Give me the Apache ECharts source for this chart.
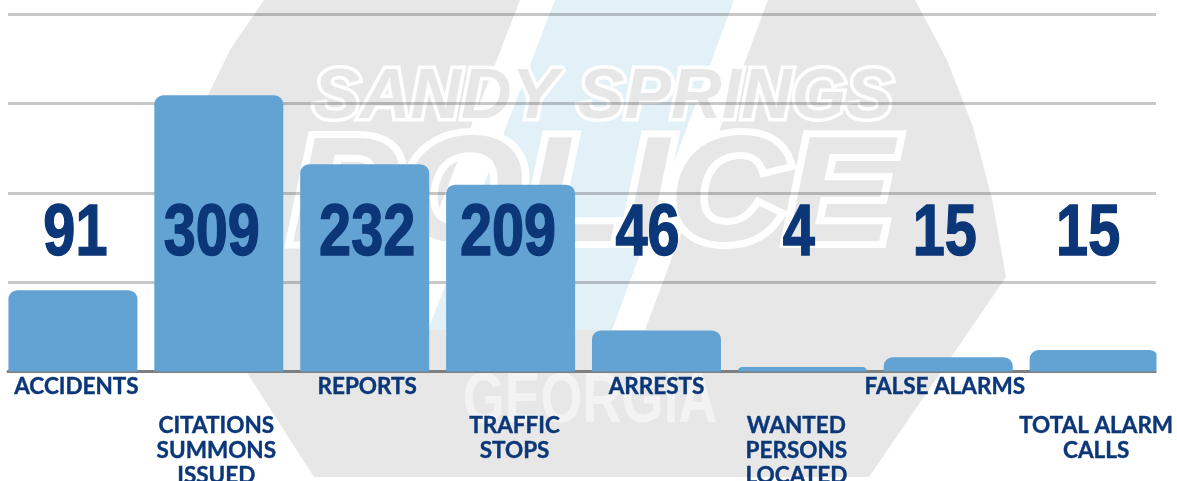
<!DOCTYPE html>
<html>
<head>
<meta charset="utf-8">
<title>Sandy Springs Police activity</title>
<script src="https://cdn.jsdelivr.net/npm/echarts@6/dist/echarts.min.js"></script>
<style>
  html, body { margin: 0; padding: 0; background: #fff; }
  #chart { width: 1177px; height: 481px; }
</style>
</head>
<body>
<div id="chart"></div>
<script>
// what the picture prints
const categories = [
  ['ACCIDENTS'],
  ['CITATIONS', 'SUMMONS', 'ISSUED'],
  ['REPORTS'],
  ['TRAFFIC', 'STOPS'],
  ['ARRESTS'],
  ['WANTED', 'PERSONS', 'LOCATED'],
  ['FALSE ALARMS'],
  ['TOTAL ALARM', 'CALLS']
];
const printedValues = [91, 309, 232, 209, 46, 4, 15, 15];
// bar heights, the last ones do not quite agree with the printed numbers
const barValues = [91, 309, 232, 209, 46, 5, 16, 24];
const yTicks = [0, 100, 200, 300, 400];

// the labels sit a few px off their bars in the original
const STEP = 145.9;
const nameShift = [3.5, -2.5, 2.5, 4, 0, -6, -3.5, 2];
const numberShift = [2.5, -7, 2.5, -2.5, -9, -3.5, -3.5, -6];
const lowRow = [false, true, false, true, false, true, false, true];
const NUMBER_LEVEL = 152.5;
const X_MAX = 7.424;

const navy = '#0b3778';
const chart = echarts.init(document.getElementById('chart'), null, { renderer: 'canvas' });

const namePositions = categories.map((c, i) => i + nameShift[i] / STEP);

// faded police badge behind the plot
const badge = [
  { type: 'polygon', z: -10, silent: true,
    shape: { points: [[264, 0], [230, 50], [208, 95], [200, 140], [197, 190], [197, 295], [314, 477],
      [869, 477], [1006, 277], [992, 199], [973, 127], [947, 60], [915, 0]] },
    style: { fill: '#e7e7e7' } },
  { type: 'polygon', z: -9, silent: true,
    shape: { points: [[520, 0], [768, 0], [645, 330], [392, 330]] },
    style: { fill: '#ffffff' } },
  { type: 'polygon', z: -8, silent: true,
    shape: { points: [[555, 0], [734, 0], [612, 330], [428, 330]] },
    style: { fill: '#e2f0f8' } },
  { type: 'text', z: -7, silent: true, x: 603, y: 99,
    style: { text: 'SANDY SPRINGS', font: 'italic bold 70px "Liberation Sans"', fill: '#e7e7e7',
      stroke: '#ffffff', lineWidth: 7, align: 'center', verticalAlign: 'middle' } },
  { type: 'text', z: -7, silent: true, x: 592, y: 200, scaleX: 1.08,
    style: { text: 'POLICE', font: 'italic bold 150px "Liberation Sans"', fill: '#e7e7e7',
      stroke: '#ffffff', lineWidth: 14, align: 'center', verticalAlign: 'middle' } },
  { type: 'text', z: -7, silent: true, x: 590, y: 403, scaleX: 0.77,
    style: { text: 'GEORGIA', font: 'bold 70px "Liberation Sans"', fill: '#f3f3f3',
      align: 'center', verticalAlign: 'middle' } },
  // the last bar is cut off at the end of the plot, bars on a value axis are not clipped
  { type: 'rect', z: 10, silent: true,
    shape: { x: 1156.5, y: 340, width: 6, height: 36 },
    style: { fill: '#ffffff' } }
];

chart.setOption({
  backgroundColor: '#ffffff',
  animation: false,
  graphic: badge,
  grid: { left: 8, top: 14, width: 1148, height: 357.5, outerBoundsMode: 'none' },
  xAxis: {
    type: 'value',
    min: -0.445,
    max: X_MAX,
    splitLine: { show: false },
    axisTick: { show: false },
    axisLine: { show: true, onZero: false, lineStyle: { color: '#7f7f7f', width: 3 } },
    axisLabel: {
      // extra empty label at the end, otherwise echarts drops one of the two overlapping last names
      customValues: namePositions.concat([X_MAX]),
      margin: 2.5,
      hideOverlap: false,
      showMaxLabel: false,
      formatter: (value) => {
        const i = namePositions.findIndex(p => Math.abs(p - value) < 1e-6);
        if (i < 0) return '';
        const lines = categories[i].map(t => '{name|' + t + '}');
        return (lowRow[i] ? ['{gap| }'] : []).concat(lines).join('\n');
      },
      rich: {
        name: { fontFamily: 'Lato', fontWeight: 'bold', fontSize: 22.5, lineHeight: 25, color: navy,
          textBorderColor: navy, textBorderWidth: 0.4 },
        gap: { fontSize: 10, lineHeight: 39 }
      }
    }
  },
  yAxis: {
    type: 'value',
    min: yTicks[0],
    max: yTicks[yTicks.length - 1],
    interval: yTicks[1],
    axisLine: { show: false },
    axisTick: { show: false },
    axisLabel: { show: false },
    splitLine: { lineStyle: { color: 'rgba(0,0,0,0.215)', width: 3 } }
  },
  series: [
    {
      type: 'bar',
      barWidth: 129,
      itemStyle: { color: '#63a3d4', borderRadius: [9, 9, 0, 0] },
      data: barValues.map((v, i) => [i, v]),
      z: 3
    },
    {
      // big condensed numbers, no narrow font here so squeeze a bold one
      type: 'custom',
      z: 5,
      clip: false,
      renderItem: (params, api) => {
        const pos = api.coord([api.value(0), api.value(1)]);
        return {
          type: 'text',
          x: pos[0],
          y: pos[1],
          scaleX: 0.79,
          style: {
            text: String(api.value(2)),
            font: 'bold 73px "Liberation Sans"',
            fill: navy,
            stroke: navy,
            lineWidth: 1.5,
            align: 'center',
            verticalAlign: 'middle'
          }
        };
      },
      data: printedValues.map((v, i) => [i + numberShift[i] / STEP, NUMBER_LEVEL, v])
    }
  ]
});
</script>
</body>
</html>
